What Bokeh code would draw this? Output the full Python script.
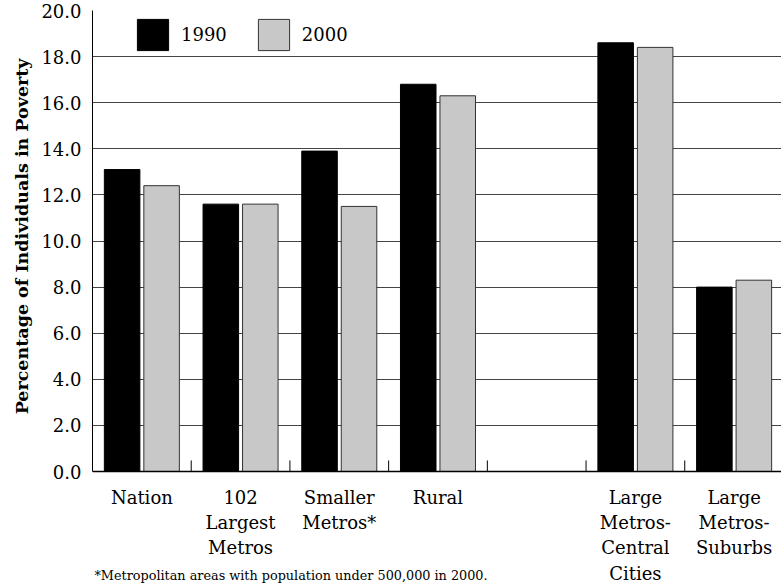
from bokeh.plotting import figure
from bokeh.models import (ColumnDataSource, Range1d, FixedTicker, Legend, LegendItem, Span,
                          Title)
from bokeh.core.properties import value
from bokeh.transform import dodge
from bokeh.embed import file_html
from bokeh.resources import INLINE

categories = ["Nation", "102\nLargest\nMetros", "Smaller\nMetros*", "Rural", "",
              "Large\nMetros-\nCentral\nCities", "Large\nMetros-\nSuburbs"]
v1990 = [13.1, 11.6, 13.9, 16.8, float("nan"), 18.6, 8.0]
v2000 = [12.4, 11.6, 11.5, 16.3, float("nan"), 18.4, 8.3]
y_ticks = [0, 2, 4, 6, 8, 10, 12, 14, 16, 18, 20]
y_title = "Percentage of Individuals in Poverty"
footnote = "*Metropolitan areas with population under 500,000 in 2000."

# layout constants (data units of the value axis below zero)
LABEL_TOP = -0.67
FOOT_Y = -4.52
TICK_LEN = 0.48
Y_MIN = -4.945

centers = [i + 0.5 for i in range(len(categories))]
bounds = [i for i in range(1, len(categories))]
src = ColumnDataSource(dict(x=centers, a=v1990, b=v2000, cat=categories,
                            ly=[LABEL_TOP] * len(categories)))

FONT = "DejaVu Serif"

p = figure(width=781, height=585, output_backend="svg", toolbar_location=None,
           x_range=Range1d(0, 6.98), y_range=Range1d(Y_MIN, 20),
           x_axis_location=None,
           min_border_left=92, min_border_right=0, min_border_top=10,
           min_border_bottom=0)
p.outline_line_color = None
p.background_fill_color = "white"
p.border_fill_color = "white"

# grid
p.ygrid.ticker = FixedTicker(ticks=y_ticks)
p.ygrid.grid_line_color = "#444444"
p.ygrid.grid_line_width = 1.2
p.ygrid.bounds = (0, 20)
p.xgrid.grid_line_color = None

r1 = p.vbar(x=dodge("x", -0.2), top="a", width=0.36, source=src,
            fill_color="black", line_color="black", line_width=1)
r2 = p.vbar(x=dodge("x", 0.2), top="b", width=0.36, source=src,
            fill_color="#c8c8c8", line_color="#333333", line_width=1)

# category baseline and boundary ticks
p.add_layout(Span(location=0, dimension="width", line_color="black", line_width=1.5))
p.segment(x0=bounds, y0=[0] * len(bounds), x1=bounds, y1=[TICK_LEN] * len(bounds),
          line_color="black", line_width=1)

# category names
p.text(x="x", y="ly", text="cat", source=src,
       text_font=value(FONT), text_font_size="18px", text_color="black",
       text_align="center", text_baseline="top", text_line_height=1.2)

# footnote
p.text(x=[0.02], y=[FOOT_Y], text=[footnote],
       text_font=value(FONT), text_font_size="12.8px", text_color="black",
       text_align="left", text_baseline="middle")

# y axis
ya = p.yaxis[0]
ya.bounds = (0, 20)
ya.ticker = FixedTicker(ticks=y_ticks)
ya.major_label_overrides = {t: f"{t:.1f}" for t in y_ticks}
ya.major_tick_out = 0
ya.major_tick_in = 0
ya.minor_tick_line_color = None
ya.axis_line_color = "black"
ya.axis_line_width = 1
ya.major_label_text_font = FONT
ya.major_label_text_font_size = "18px"
ya.major_label_text_color = "black"
ya.major_label_standoff = 11

# y axis title
p.add_layout(Title(text=y_title, align="right", offset=48,
                   text_font=FONT, text_font_style="bold", text_font_size="17.5px",
                   text_color="black", standoff=14), "left")

legend = Legend(items=[LegendItem(label="1990", renderers=[r1]),
                       LegendItem(label="2000", renderers=[r2])],
                orientation="horizontal", location=(41, 531),
                glyph_width=39, glyph_height=39, label_standoff=9, spacing=27,
                padding=0, margin=0, border_line_color=None,
                background_fill_alpha=0,
                label_text_font=FONT, label_text_font_size="18px",
                label_text_color="black")
p.add_layout(legend, "center")

open("out.html", "w").write(file_html(p, INLINE))
